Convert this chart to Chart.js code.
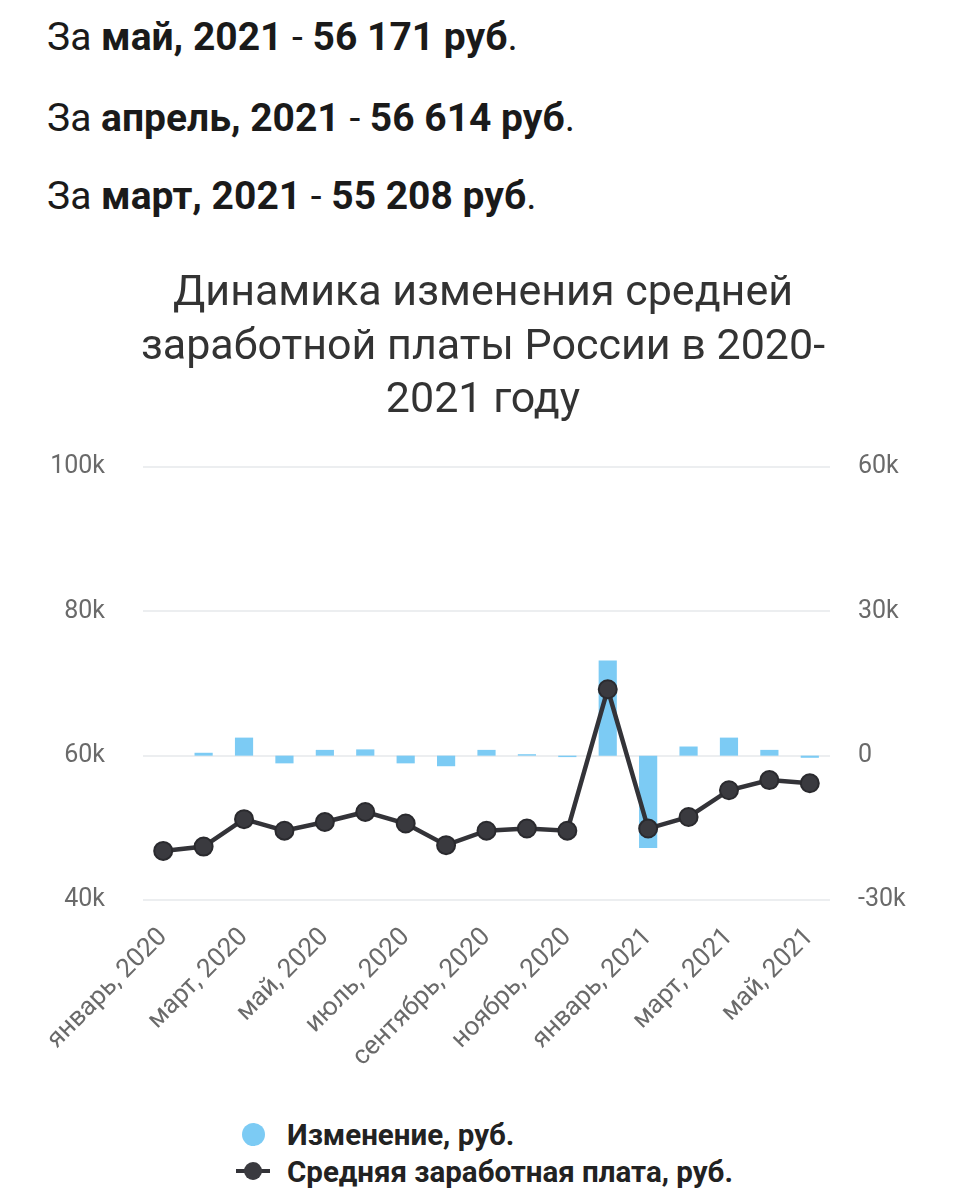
<!DOCTYPE html>
<html lang="ru">
<head>
<meta charset="utf-8">
<script src="https://cdn.jsdelivr.net/npm/chart.js@4"></script>
<style>
  html, body { margin: 0; padding: 0; background: #fff; }
  body { width: 966px; height: 1200px; position: relative; overflow: hidden; font-family: Roboto, "Noto Sans", sans-serif; }
  .line { position: absolute; left: 47px; font-size: 39px; color: #1a1a1a; white-space: nowrap; line-height: 1; }
  .line b { font-weight: 700; }
  #wrap { position: absolute; left: 0; top: 250px; width: 966px; height: 850px; }
  #legend { position: absolute; left: 236px; top: 1116px; font-family: Roboto, sans-serif; }
  .li { display: flex; align-items: center; height: 37px; font-weight: 700; font-size: 29.5px; color: #222; }
  .sw { width: 36px; height: 37px; position: relative; margin-right: 15px; }
  .dot { position: absolute; left: 6px; top: 7px; width: 23px; height: 23px; border-radius: 50%; }
  .ln { position: absolute; left: 0; top: 16px; width: 34px; height: 4px; }
  .pd { position: absolute; left: 8px; top: 9px; width: 18px; height: 18px; border-radius: 50%; }
</style>
</head>
<body>
<div class="line" style="top:18px">За <b>май, 2021</b> - <b>56 171 руб</b>.</div>
<div class="line" style="top:99px">За <b>апрель, 2021</b> - <b>56 614 руб</b>.</div>
<div class="line" style="top:177px">За <b>март, 2021</b> - <b>55 208 руб</b>.</div>
<div id="wrap"><canvas id="c" width="966" height="850"></canvas></div>
<div id="legend"></div>
<script>
const titleLines = ["Динамика изменения средней", "заработной платы России в 2020-", "2021 году"];
const months = ["январь", "февраль", "март", "апрель", "май", "июнь", "июль", "август", "сентябрь", "октябрь", "ноябрь", "декабрь", "январь", "февраль", "март", "апрель", "май"];
const years = [2020, 2020, 2020, 2020, 2020, 2020, 2020, 2020, 2020, 2020, 2020, 2020, 2021, 2021, 2021, 2021, 2021];
const labels = months.map((m, i) => m + ", " + years[i]);
const salary = [46800, 47400, 51200, 49600, 50800, 52200, 50600, 47600, 49600, 49900, 49600, 69200, 49900, 51500, 55208, 56614, 56171];
const change = [0, 600, 3750, -1600, 1200, 1300, -1600, -2200, 1200, 300, -300, 19800, -19200, 1900, 3750, 1200, -443];
const leftTicks = [40000, 60000, 80000, 100000];
const rightTicks = [-30000, 0, 30000, 60000];
const seriesNames = ["Изменение, руб.", "Средняя заработная плата, руб."];

const barColor = "#7ccbf4";
const lineColor = "#333338";
const fmtK = v => v === 0 ? "0" : (v / 1000) + "k";

const chart = new Chart(document.getElementById("c"), {
  data: {
    labels: labels,
    datasets: [
      {
        type: "line", label: seriesNames[1], data: salary, yAxisID: "y",
        borderColor: lineColor, backgroundColor: lineColor, borderWidth: 4.5,
        pointRadius: 9, pointBackgroundColor: "#3a3a3f", pointBorderColor: "#2a2a2e", pointBorderWidth: 2,
        tension: 0, order: 0
      },
      {
        type: "bar", label: seriesNames[0], data: change, yAxisID: "y1",
        backgroundColor: barColor, borderWidth: 0,
        barPercentage: 0.5, categoryPercentage: 0.9, order: 1
      }
    ]
  },
  options: {
    responsive: false,
    animation: false,
    layout: { padding: 0 },
    plugins: {
      legend: { display: false },
      tooltip: { enabled: false },
      title: {
        display: true, text: titleLines, color: "#333",
        font: { family: "Roboto", size: 43, weight: "400", lineHeight: 1.24 },
        padding: { top: 18, bottom: 39 }
      }
    },
    scales: {
      x: {
        offset: true,
        grid: { display: false },
        border: { display: false },
        ticks: {
          autoSkip: true, maxTicksLimit: 9, maxRotation: 45, minRotation: 45,
          color: "#6a6a6a", padding: 14,
          font: { family: "Roboto", size: 26 }
        },
        afterFit: s => { s.height = 200; }
      },
      y: {
        position: "left", min: 40000, max: 100000,
        afterBuildTicks: s => { s.ticks = leftTicks.map(v => ({ value: v })); },
        grid: { color: "#eceef0", lineWidth: 2, drawTicks: false },
        border: { display: false },
        ticks: { callback: fmtK, color: "#6a6a6a", padding: 38, font: { family: "Roboto", size: 25 } },
        afterFit: s => { s.width = 143; }
      },
      y1: {
        position: "right", min: -30000, max: 60000,
        afterBuildTicks: s => { s.ticks = rightTicks.map(v => ({ value: v })); },
        grid: { display: false, drawTicks: false },
        border: { display: false },
        ticks: { callback: fmtK, color: "#6a6a6a", padding: 28, font: { family: "Roboto", size: 25 } },
        afterFit: s => { s.width = 136; }
      }
    }
  }
});

// HTML legend built from chart datasets (two stacked rows as in the reference)
const lg = document.getElementById("legend");
const order = [1, 0];
order.forEach(i => {
  const ds = chart.data.datasets[i];
  const row = document.createElement("div");
  row.className = "li";
  const sw = document.createElement("span");
  sw.className = "sw";
  if (ds.type === "bar") {
    const d = document.createElement("span"); d.className = "dot"; d.style.background = ds.backgroundColor; sw.appendChild(d);
  } else {
    const l = document.createElement("span"); l.className = "ln"; l.style.background = ds.borderColor; sw.appendChild(l);
    const p = document.createElement("span"); p.className = "pd"; p.style.background = ds.pointBackgroundColor; sw.appendChild(p);
  }
  row.appendChild(sw);
  const t = document.createElement("span"); t.textContent = ds.label; row.appendChild(t);
  lg.appendChild(row);
});
</script>
</body>
</html>
